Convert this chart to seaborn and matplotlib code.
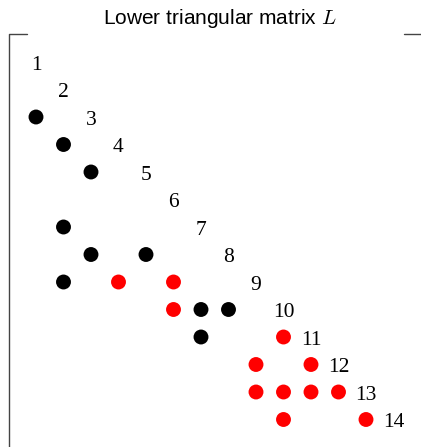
import matplotlib
matplotlib.use("Agg")
import matplotlib.pyplot as plt
import seaborn as sns
import pandas as pd

# Nonzero entries (row, column) of the lower triangular factor
black_rows = [3, 4, 5, 7, 8, 8, 9, 10, 10, 11]
black_cols = [1, 2, 3, 2, 3, 5, 2, 7, 8, 7]
red_rows = [9, 9, 10, 11, 12, 12, 13, 13, 13, 13, 14, 14]
red_cols = [4, 6, 6, 10, 9, 11, 9, 10, 11, 12, 10, 13]
diag_labels = list(range(1, 15))

sns.set_style("white")
plt.rcParams["mathtext.fontset"] = "cm"

df = pd.DataFrame({
    "row": black_rows + red_rows,
    "col": black_cols + red_cols,
    "kind": ["old"] * len(black_rows) + ["fill"] * len(red_rows),
})

fig = plt.figure(figsize=(4.21, 4.47), dpi=100)
ax = fig.add_axes([0, 0, 1, 1])
sns.scatterplot(data=df, x="col", y="row", hue="kind",
                palette={"old": "black", "fill": "#ff0000"},
                s=115, linewidth=0, legend=False, ax=ax)

for k in diag_labels:
    ax.text(k, k + 0.12, str(k), ha="center", va="center",
            fontsize=15.5, family="Liberation Serif", color="black")

ax.set_xlim(-0.309, 15.0)
ax.set_ylim(15.0, -1.2545)
ax.set_axis_off()

# matrix bracket lines (figure pixel coordinates)
W, H = 421, 447
def fx(px):
    return px / W
def fy(py):
    return 1 - py / H
lc = "#444444"
fig.add_artist(plt.Line2D([fx(8.5), fx(8.5), fx(27)], [fy(448), fy(33.5), fy(33.5)],
                          color=lc, lw=1.0, transform=fig.transFigure))
fig.add_artist(plt.Line2D([fx(404), fx(422)], [fy(34), fy(34)],
                          color=lc, lw=1.0, transform=fig.transFigure))

fig.text(fx(219.5), fy(18), "Lower triangular matrix $L$", ha="center", va="center",
         fontsize=15, family="Liberation Sans", color="black")

fig.savefig("out.png", dpi=100)
